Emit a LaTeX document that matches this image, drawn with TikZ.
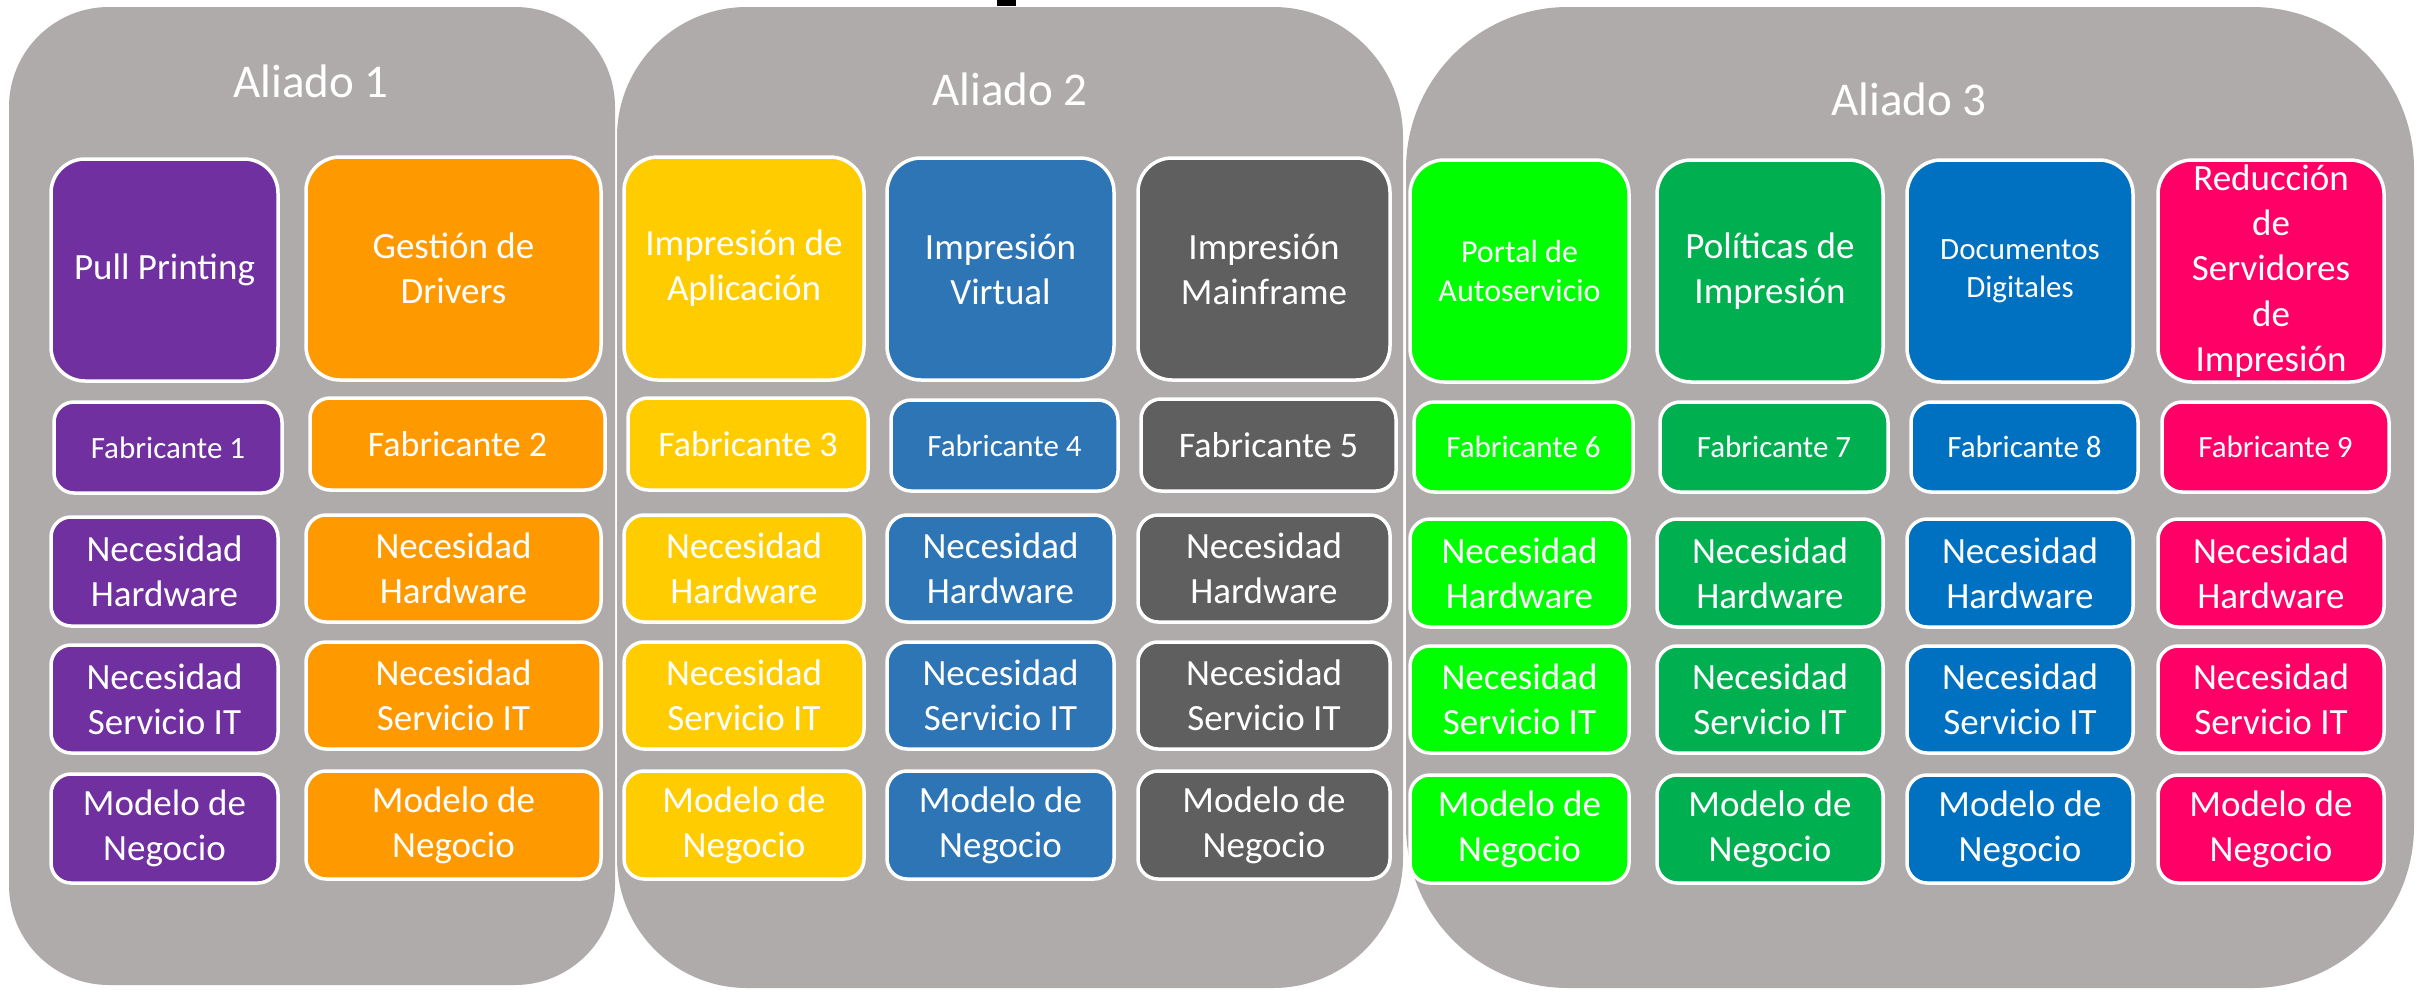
\documentclass[tikz,border=0pt]{standalone}
\usepackage{fontspec}
\setmainfont{Carlito}
\definecolor{panelgray}{HTML}{AEABAA}
\definecolor{cpurple}{HTML}{7030A0}
\definecolor{corange}{HTML}{FF9900}
\definecolor{cyellow}{HTML}{FFCC00}
\definecolor{cblueA}{HTML}{2E75B6}
\definecolor{cdark}{HTML}{5F5F5F}
\definecolor{clime}{HTML}{00FF00}
\definecolor{cgreen}{HTML}{00B050}
\definecolor{cblueB}{HTML}{0070C0}
\definecolor{cpink}{HTML}{FF0066}
\tikzset{
  cell/.style={draw=white, line width=3.5pt, text=white, inner sep=0pt, align=center, rectangle},
  panel/.style={fill=panelgray, draw=none, inner sep=0pt, rectangle},
  ptitle/.style={text=white, font=\fontsize{47}{57}\selectfont, anchor=base, inner sep=0pt}
}
% name, color, x1, y1, x2, y2, font size, corner radius, text
\newcommand{\mybox}[9]{%
  \pgfmathsetmacro{\bxcx}{(#3+#5)/2}%
  \pgfmathsetmacro{\bxcy}{(#4+#6)/2}%
  \pgfmathsetmacro{\bxw}{#5-#3}%
  \pgfmathsetmacro{\bxh}{#6-#4}%
  \pgfmathsetmacro{\bxls}{#7*1.22}%
  \node[cell, fill=#2, rounded corners=#8pt, minimum width=\bxw pt, minimum height=\bxh pt,
        font=\fontsize{#7}{\bxls}\selectfont] (#1) at (\bxcx,\bxcy) {#9};%
}
\newcommand{\mypanel}[6]{%
  \pgfmathsetmacro{\pncx}{(#2+#4)/2}%
  \pgfmathsetmacro{\pncy}{(#3+#5)/2}%
  \pgfmathsetmacro{\pnw}{#4-#2}%
  \pgfmathsetmacro{\pnh}{#5-#3}%
  \node[panel, rounded corners=#6pt, minimum width=\pnw pt, minimum height=\pnh pt] (#1) at (\pncx,\pncy) {};%
}
\begin{document}
\begin{tikzpicture}[x=1pt, y=-1pt]
\useasboundingbox (0,0) rectangle (2428,991);
\fill[white] (0,0) rectangle (2428,991);
% title fragment at the very top
\fill[black] (997,0) rectangle (1016,6);
% panels
\mypanel{p1}{9}{7}{615}{985}{100}
\mypanel{p2}{617}{7}{1403}{988}{130}
\mypanel{p3}{1406}{7}{2414}{988}{162}
\node[ptitle] (a1) at (311,97) {Aliado 1};
\node[ptitle] (a2) at (1010,105) {Aliado 2};
\node[ptitle] (a3) at (1909,115) {Aliado 3};
% top row
\mybox{t1}{cpurple}{51}{159}{278}{381}{37}{34}{Pull Printing}
\mybox{t2}{corange}{306}{157}{601}{380}{37}{34}{Gestión de\\Drivers}
\mybox{t3}{cyellow}{624}{157}{864}{380}{37}{34}{Impresión de\\Aplicación}
\mybox{t4}{cblueA}{887}{158}{1114}{380}{37}{34}{Impresión\\Virtual}
\mybox{t5}{cdark}{1138}{158}{1390}{380}{37}{34}{Impresión\\Mainframe}
\mybox{t6}{clime}{1410}{160}{1629}{382}{32}{34}{Portal de\\Autoservicio}
\mybox{t7}{cgreen}{1657}{160}{1883}{382}{37}{34}{Políticas de\\Impresión}
\mybox{t8}{cblueB}{1907}{160}{2133}{382}{31}{34}{Documentos\\Digitales}
\mybox{t9}{cpink}{2158}{160}{2384}{382}{37}{34}{Reducción\\de\\Servidores\\de\\Impresión}
% fabricante row
\mybox{f1}{cpurple}{54}{402}{282}{493}{31}{20}{Fabricante 1}
\mybox{f2}{corange}{310}{398}{605}{490}{36}{20}{Fabricante 2}
\mybox{f3}{cyellow}{628}{398}{868}{490}{36}{20}{Fabricante 3}
\mybox{f4}{cblueA}{891}{400}{1118}{491}{31}{20}{Fabricante 4}
\mybox{f5}{cdark}{1141}{399}{1396}{491}{36}{20}{Fabricante 5}
\mybox{f6}{clime}{1414}{402}{1633}{492}{31}{20}{Fabricante 6}
\mybox{f7}{cgreen}{1660}{402}{1888}{492}{31}{20}{Fabricante 7}
\mybox{f8}{cblueB}{1911}{402}{2138}{492}{31}{20}{Fabricante 8}
\mybox{f9}{cpink}{2162}{402}{2389}{492}{31}{20}{Fabricante 9}
% hardware row
\mybox{h1}{cpurple}{51}{517}{278}{626}{37}{20}{Necesidad\\Hardware}
\mybox{h2}{corange}{306}{515}{601}{622}{37}{20}{Necesidad\\Hardware}
\mybox{h3}{cyellow}{624}{515}{864}{622}{37}{20}{Necesidad\\Hardware}
\mybox{h4}{cblueA}{887}{515}{1114}{622}{37}{20}{Necesidad\\Hardware}
\mybox{h5}{cdark}{1138}{515}{1390}{622}{37}{20}{Necesidad\\Hardware}
\mybox{h6}{clime}{1410}{519}{1629}{627}{37}{20}{Necesidad\\Hardware}
\mybox{h7}{cgreen}{1657}{519}{1883}{627}{37}{20}{Necesidad\\Hardware}
\mybox{h8}{cblueB}{1907}{519}{2133}{627}{37}{20}{Necesidad\\Hardware}
\mybox{h9}{cpink}{2158}{519}{2384}{627}{37}{20}{Necesidad\\Hardware}
% service row
\mybox{s1}{cpurple}{51}{645}{278}{753}{37}{20}{Necesidad\\Servicio IT}
\mybox{s2}{corange}{306}{642}{601}{749}{37}{20}{Necesidad\\Servicio IT}
\mybox{s3}{cyellow}{624}{642}{864}{749}{37}{20}{Necesidad\\Servicio IT}
\mybox{s4}{cblueA}{887}{642}{1114}{749}{37}{20}{Necesidad\\Servicio IT}
\mybox{s5}{cdark}{1138}{642}{1390}{749}{37}{20}{Necesidad\\Servicio IT}
\mybox{s6}{clime}{1410}{646}{1629}{753}{37}{20}{Necesidad\\Servicio IT}
\mybox{s7}{cgreen}{1657}{646}{1883}{753}{37}{20}{Necesidad\\Servicio IT}
\mybox{s8}{cblueB}{1907}{646}{2133}{753}{37}{20}{Necesidad\\Servicio IT}
\mybox{s9}{cpink}{2158}{646}{2384}{753}{37}{20}{Necesidad\\Servicio IT}
% model row
\mybox{m1}{cpurple}{51}{774}{278}{883}{37}{20}{Modelo de\\Negocio}
\mybox{m2}{corange}{306}{771}{601}{879}{37}{20}{Modelo de\\Negocio}
\mybox{m3}{cyellow}{624}{771}{864}{879}{37}{20}{Modelo de\\Negocio}
\mybox{m4}{cblueA}{887}{771}{1114}{879}{37}{20}{Modelo de\\Negocio}
\mybox{m5}{cdark}{1138}{771}{1390}{879}{37}{20}{Modelo de\\Negocio}
\mybox{m6}{clime}{1410}{775}{1629}{883}{37}{20}{Modelo de\\Negocio}
\mybox{m7}{cgreen}{1657}{775}{1883}{883}{37}{20}{Modelo de\\Negocio}
\mybox{m8}{cblueB}{1907}{775}{2133}{883}{37}{20}{Modelo de\\Negocio}
\mybox{m9}{cpink}{2158}{775}{2384}{883}{37}{20}{Modelo de\\Negocio}
\end{tikzpicture}
\end{document}
